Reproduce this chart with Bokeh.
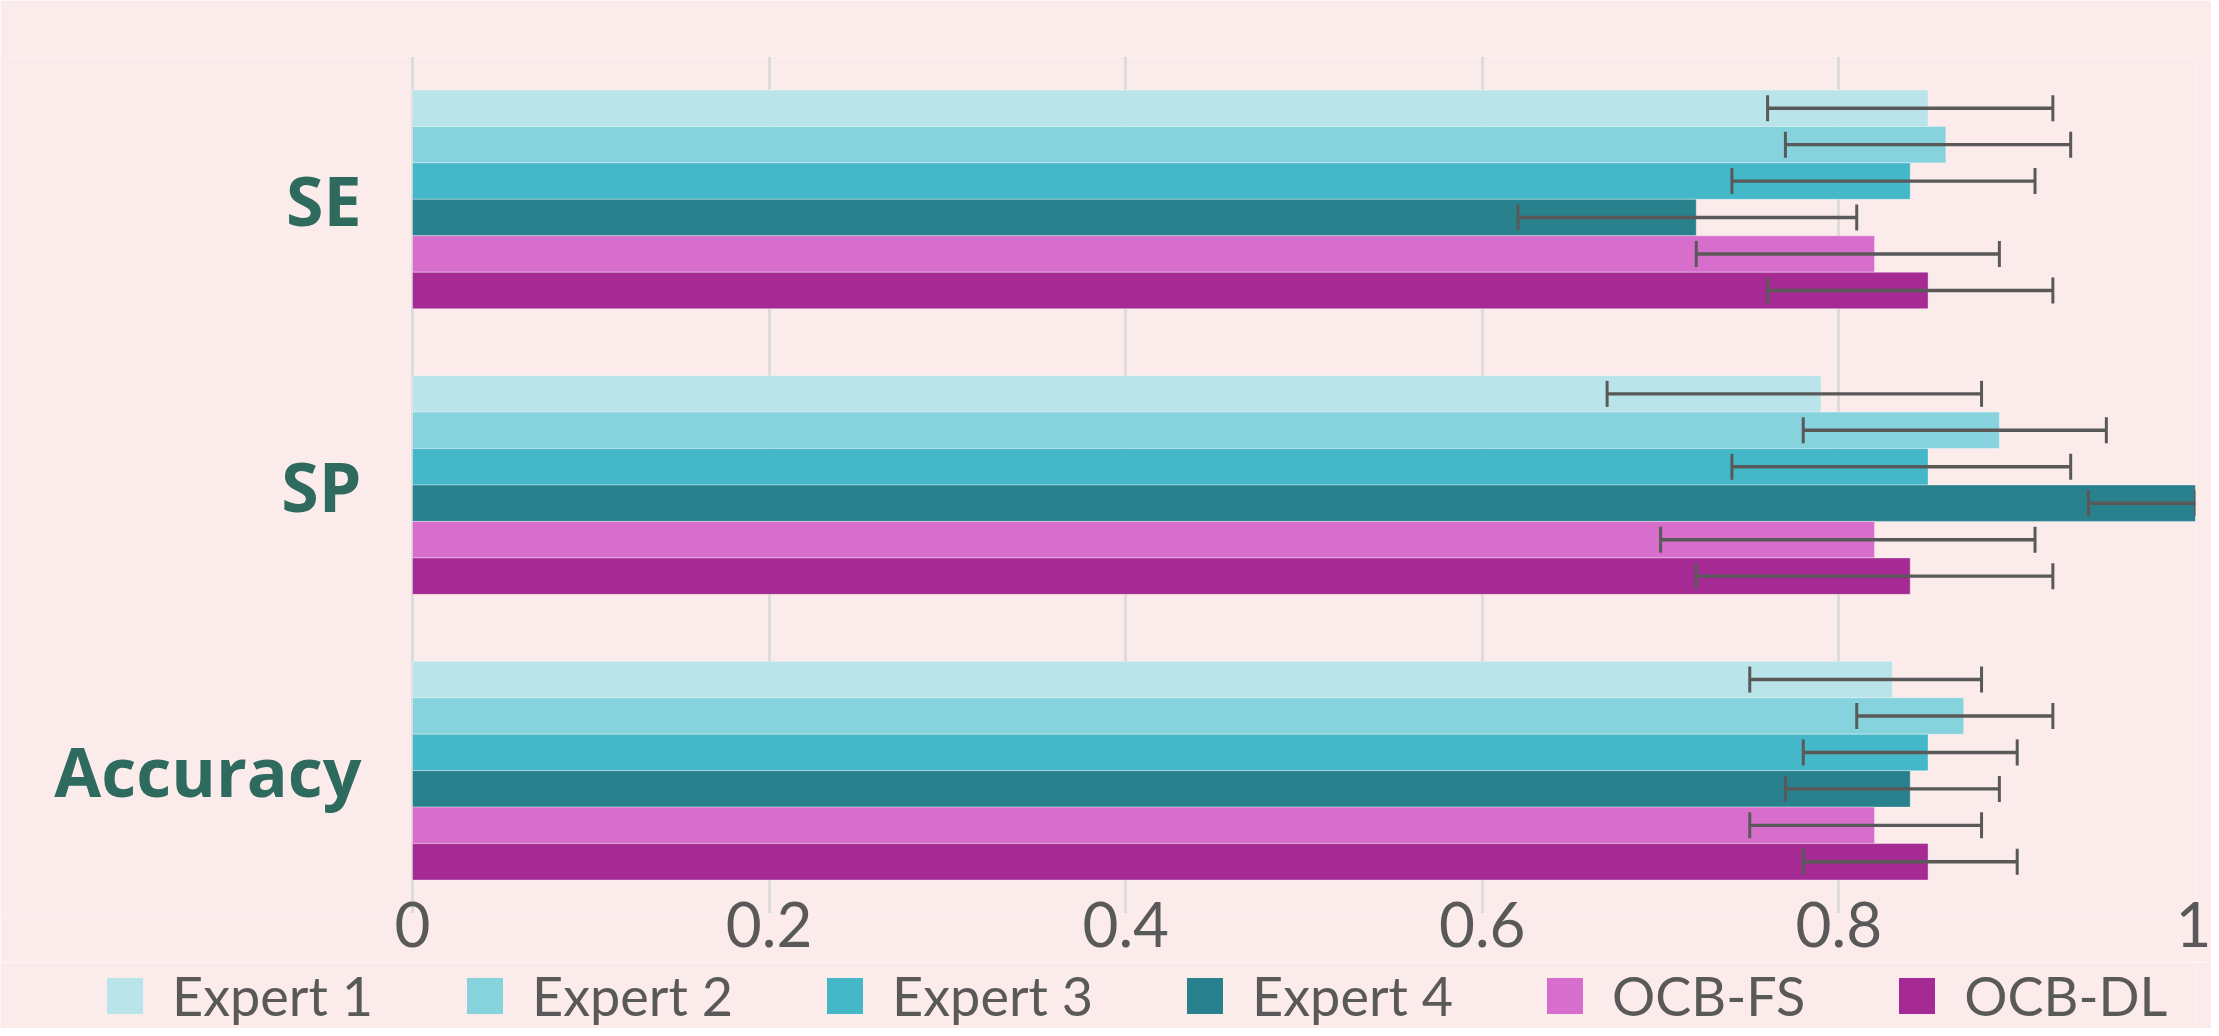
from bokeh.plotting import figure
from bokeh.layouts import column
from bokeh.models import (ColumnDataSource, FactorRange, Range1d, Legend, LegendItem,
                          FixedTicker)
from bokeh.transform import dodge
from bokeh.embed import file_html
from bokeh.resources import INLINE

# ---------------- data ----------------
categories = ["SE", "SP", "Accuracy"]
series = ["Expert 1", "Expert 2", "Expert 3", "Expert 4", "OCB-FS", "OCB-DL"]
colors = ["#B9E4EA", "#86D3DD", "#44B8C9", "#28818C", "#D86ECB", "#A52A93"]

expert1 = [0.85, 0.79, 0.83]
expert1_lo = [0.76, 0.67, 0.75]
expert1_hi = [0.92, 0.88, 0.88]

expert2 = [0.86, 0.89, 0.87]
expert2_lo = [0.77, 0.78, 0.81]
expert2_hi = [0.93, 0.95, 0.92]

expert3 = [0.84, 0.85, 0.85]
expert3_lo = [0.74, 0.74, 0.78]
expert3_hi = [0.91, 0.93, 0.90]

expert4 = [0.72, 1.00, 0.84]
expert4_lo = [0.62, 0.94, 0.77]
expert4_hi = [0.81, 1.00, 0.89]

ocb_fs = [0.82, 0.82, 0.82]
ocb_fs_lo = [0.72, 0.70, 0.75]
ocb_fs_hi = [0.89, 0.91, 0.88]

ocb_dl = [0.85, 0.84, 0.85]
ocb_dl_lo = [0.76, 0.72, 0.78]
ocb_dl_hi = [0.92, 0.92, 0.90]

x_ticks = [0, 0.2, 0.4, 0.6, 0.8, 1]
x_tick_labels = ["0", "0.2", "0.4", "0.6", "0.8", "1"]

values = [expert1, expert2, expert3, expert4, ocb_fs, ocb_dl]
lows = [expert1_lo, expert2_lo, expert3_lo, expert4_lo, ocb_fs_lo, ocb_dl_lo]
highs = [expert1_hi, expert2_hi, expert3_hi, expert4_hi, ocb_fs_hi, ocb_dl_hi]

# ---------------- layout constants (pixels) ----------------
BG = "#FCEBEB"
W = 2211
RIGHT_PAD = 16
LEFT_GAP = 412            # room for the category labels left of x = 0
px_per_unit = (W - RIGHT_PAD - LEFT_GAP)
MAIN_H = 962
LEG_H = 1028 - MAIN_H

# ---------------- main figure ----------------
p = figure(width=W, height=MAIN_H, output_backend="svg", toolbar_location=None,
           y_range=FactorRange(factors=categories[::-1], range_padding=0),
           x_range=Range1d(-LEFT_GAP / px_per_unit, 1),
           min_border_left=0, min_border_right=RIGHT_PAD, min_border_top=56,
           min_border_bottom=MAIN_H - 913)
p.background_fill_color = BG
p.border_fill_color = BG
p.outline_line_color = None

h = 0.1276
cap = 0.0455
for i, (name, vals, lo, hi, col) in enumerate(zip(series, values, lows, highs, colors)):
    off = (2.5 - i) * h
    src = ColumnDataSource(dict(cat=categories, val=vals, lo=lo, hi=hi))
    p.hbar(y=dodge("cat", off, range=p.y_range), left=0, right="val", height=h,
           source=src, fill_color=col, line_color="#FFFFFF", line_alpha=0.35, line_width=1)
    p.segment(x0="lo", x1="hi", y0=dodge("cat", off, range=p.y_range),
              y1=dodge("cat", off, range=p.y_range), source=src,
              line_color="#595959", line_width=3.4)
    for f in ("lo", "hi"):
        p.segment(x0=f, x1=f, y0=dodge("cat", off - cap, range=p.y_range),
                  y1=dodge("cat", off + cap, range=p.y_range), source=src,
                  line_color="#595959", line_width=3)

xa = p.xaxis[0]
xa.ticker = FixedTicker(ticks=x_ticks)
xa.major_label_overrides = {t: l for t, l in zip(x_ticks, x_tick_labels)}
xa.axis_line_color = None
xa.major_tick_line_color = None
xa.minor_tick_line_color = None
xa.major_tick_out = 0
xa.major_tick_in = 0
xa.major_label_standoff = -12
xa.major_label_text_font = "Lato"
xa.major_label_text_font_size = "62px"
xa.major_label_text_color = "#595959"

ya = p.yaxis[0]
ya.fixed_location = 0
ya.axis_line_color = None
ya.major_tick_line_color = None
ya.minor_tick_line_color = None
ya.major_tick_out = 0
ya.major_tick_in = 0
ya.major_label_standoff = 51
ya.major_label_text_font = "Open Sans"
ya.major_label_text_font_style = "bold"
ya.major_label_text_font_size = "68px"
ya.major_label_text_color = "#2E6B5E"

p.ygrid.grid_line_color = None
p.xgrid.grid_line_color = "#D9D9D9"
p.xgrid.grid_line_width = 2.5

# ---------------- legend strip ----------------
lp = figure(width=W, height=LEG_H, output_backend="svg", toolbar_location=None,
            x_range=Range1d(0, 1), y_range=Range1d(0, 1),
            x_axis_location=None, y_axis_location=None,
            min_border_left=0, min_border_right=RIGHT_PAD, min_border_top=0, min_border_bottom=0)
lp.background_fill_color = BG
lp.border_fill_color = BG
lp.outline_line_color = None
lp.xgrid.grid_line_color = None
lp.ygrid.grid_line_color = None

items = []
for name, col in zip(series, colors):
    # swatch renderer kept outside the visible range; only its legend glyph is shown
    r = lp.hbar(y=[lp.y_range.start - 1], left=[0], right=[1], height=0.1,
                fill_color=col, line_color=None)
    items.append(LegendItem(label=name, renderers=[r]))

legend = Legend(items=items, orientation="horizontal", location=(102, 0),
                border_line_color=None, background_fill_alpha=0, padding=0, margin=0,
                glyph_width=45, glyph_height=45, label_standoff=25, spacing=89,
                label_text_font="Lato", label_text_font_size="54px",
                label_text_color="#595959")
lp.add_layout(legend)

open("out.html", "w").write(file_html(column(p, lp, spacing=0), INLINE))
